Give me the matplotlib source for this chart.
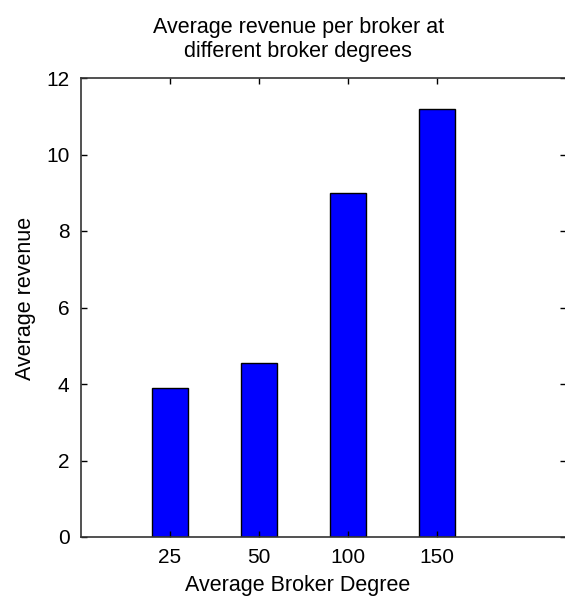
import numpy as np
import matplotlib
matplotlib.use('Agg')
import matplotlib.pyplot as plt

# chart data
degrees = ['25', '50', '100', '150']
revenue = [3.9, 4.55, 9.0, 11.2]

plt.rcParams['font.family'] = ['Liberation Sans', 'DejaVu Sans']

fig = plt.figure(figsize=(5.65, 6.05), dpi=100)
W, H = 565, 605
ax = fig.add_axes([80.7 / W, 1 - 537 / H, (566 - 80.7) / W, (537 - 78) / H])

x = np.arange(1, len(degrees) + 1)
ax.bar(x, revenue, 0.4, color='#0000ff', edgecolor='black', linewidth=1.0)

ax.set_xlim(0, 5.45)
ax.set_ylim(0, 12)
ax.set_xticks(x)
ax.set_xticklabels(degrees)
ax.set_yticks(np.arange(0, 13, 2))
ax.tick_params(direction='in', length=4, width=1, labelsize=15, top=True, right=True, pad=8)
for s in ax.spines.values():
    s.set_linewidth(1.2)
    s.set_color('#333333')

# text is centred a bit left of the axes middle in the original
cx = 0.448
ax.set_xlabel('Average Broker Degree', fontsize=15.5, labelpad=6, x=cx)
ax.set_ylabel('Average revenue', fontsize=15.5, labelpad=7, y=0.52)
ax.set_title('Average revenue per broker at\ndifferent broker degrees', fontsize=15.5, pad=15, linespacing=1.2, x=cx)

fig.savefig('out.png', dpi=100)
